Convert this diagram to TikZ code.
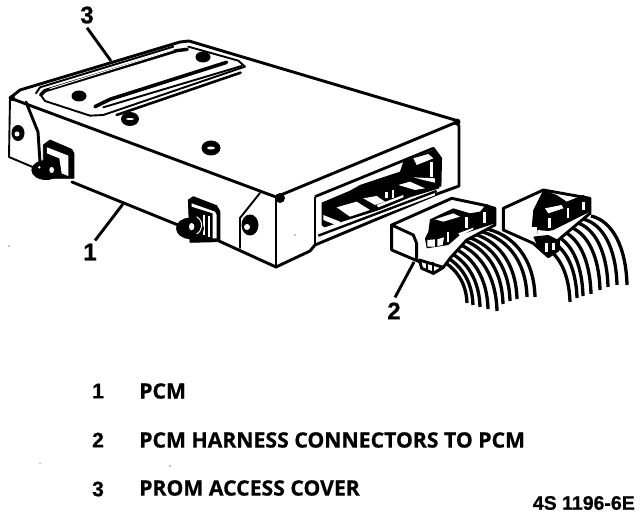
\documentclass[tikz,border=0pt]{standalone}
\usepackage{fontspec}
\setmainfont{Open Sans}[BoldFeatures={FakeBold=0.7}]
\newfontfamily\numfont{Liberation Sans}[BoldFeatures={FakeBold=0.8}]
\tikzset{
  heavy/.style={line width=2.9pt,line cap=round,line join=round},
  med/.style={line width=1.9pt,line cap=round,line join=round},
  leader/.style={line width=2.9pt,line cap=butt},
  wire/.style={line width=3.3pt,line cap=butt},
  callout/.style={font=\numfont\bfseries\fontsize{24}{24}\selectfont,inner sep=0pt},
  listnum/.style={font=\numfont\bfseries\fontsize{21}{21}\selectfont,inner sep=0pt},
  listtxt/.style={font=\bfseries\fontsize{21.2}{22}\selectfont,inner sep=0pt,anchor=west},
  code/.style={font=\numfont\bfseries\fontsize{19.5}{20}\selectfont,inner sep=0pt,anchor=east},
  inkfill/.style={fill=black,draw=black,line width=.8pt,line join=round}
}
\begin{document}
\begin{tikzpicture}[x=1pt,y=-1pt]
\useasboundingbox (0,0) rectangle (640,516);
\fill[white] (0,0) rectangle (640,516);
% ---------- PCM body
\draw[heavy] (10,98) -- (20,90) -- (180,42) -- (189,41) -- (320,80) -- (455,120) -- (459,126) -- (459,186) -- (437,194);
\draw[heavy] (10,98) -- (276,197) -- (457,122);
\draw[med] (10,98) -- (9,157) -- (35,168);
\draw[heavy] (72,182) -- (178,225);
\draw[heavy] (219,241) -- (276,267) -- (310,251) -- (315,245) -- (437,194);
\draw[heavy] (276,197) -- (276,267);
% end chamfers
\draw[heavy] (26,102) -- (38,132) -- (40,162);
\draw[med] (260,193) -- (240,218) -- (240,248);
\fill (280,198) circle (5);
\fill (12,98) circle (3);
\fill (457,122) circle (3.5);
% end screws
\fill (18,133) ellipse (6.5 and 8);
\fill[white] (17,134) circle (2.5);
\fill (250,225) ellipse (8.5 and 10.5);
\fill[white] (247,227) circle (3);
% top cover
\begin{scope}[x=.3333pt,y=-.3333pt]
\draw[med] (108,280) -- (120,262) -- (520,140);
\draw[line width=3.4pt,line cap=round,line join=round] (122,285) -- (135,272) -- (530,152) -- (562,148);
\draw[line width=.9pt,white] (150,266) -- (520,150);
\draw[med] (122,285) -- (135,303) -- (270,347) -- (310,345) -- (735,200) -- (715,182) -- (565,140);
\draw[line width=3.6pt,line cap=round] (285,320) -- (330,298) -- (680,187);
\draw[med] (310,322) -- (725,198);
\draw[line width=2.6pt,line cap=round] (350,345) -- (722,218);
\end{scope}
\fill (79,96) ellipse (7.5 and 5.5);
\fill (203,57) ellipse (7.5 and 5.5);
\fill (130,119) ellipse (9 and 7);
\fill[white] (130,119) ellipse (4 and 1);
\fill (211,148) ellipse (9.5 and 7.5);
\fill[white] (211,148) ellipse (4 and 1.5);
% left bracket and bolt
\begin{scope}[shift={(0,90)},x=.3333pt,y=-.3333pt]
\draw[inkfill] (130,165) -- (150,150) -- (215,178) -- (222,190) -- (222,265) -- (130,265) -- cycle;
\fill[white] (141,172) -- (205,197) -- (205,258) -- (185,250) -- (178,205) -- (141,190) -- cycle;
\fill (138,240) ellipse (44 and 30);
\fill[white] (155,240) ellipse (7 and 9);
\fill[white] (118,232) circle (4);
\end{scope}
% right bracket and bolt
\begin{scope}[shift={(170,185)},x=.3333pt,y=-.3333pt]
\draw[inkfill] (55,45) -- (70,35) -- (140,62) -- (150,80) -- (150,170) -- (60,172) -- cycle;
\fill[white] (65,55) -- (135,80) -- (140,90) -- (140,160) -- (128,160) -- (128,85) -- (65,65) -- cycle;
\fill[white] (100,90) rectangle (106,150);
\fill[white] (114,92) rectangle (120,155);
\fill (60,130) ellipse (42 and 32);
\fill[white] (65,125) ellipse (8 and 11);
\draw[white,line width=1pt] (80,95) arc (-60:60:30);
\end{scope}
% ---------- PCM socket
\begin{scope}[shift={(260,90)},x=.3333pt,y=-.3333pt]
\draw[line width=2.8pt,line join=round] (165,320) -- (520,175) -- (542,205) -- (540,290);
\draw[line width=2.8pt] (165,320) -- (165,465);
\fill (185,338) -- (270,302) -- (300,285) -- (420,245) -- (430,215) -- (520,180) -- (542,205) -- (538,295) -- (450,322) -- (262,400) -- (210,428) -- (185,405) -- cycle;
\fill[white] (230,352) -- (290,335) -- (330,360) -- (270,380) -- cycle;
\fill[white] (190,375) -- (240,395) -- (240,410) -- (190,390) -- cycle;
\fill[white] (310,272) -- (418,228) -- (418,236) -- (330,272) -- cycle;
\fill[white] (460,205) -- (505,192) -- (520,205) -- (470,225) -- cycle;
\fill[white] (415,285) -- (450,275) -- (495,295) -- (465,300) -- cycle;
\fill[white] (460,262) -- (525,265) -- (525,278) -- (490,270) -- cycle;
\fill[white] (310,325) -- (350,318) -- (375,335) -- (345,345) -- cycle;
\fill[white] (375,305) rectangle (385,325);
\fill[white] (395,300) rectangle (403,325);
\fill[white] (350,345) -- (430,315) -- (430,322) -- (355,352) -- cycle;
\fill[white] (510,215) rectangle (518,260);
\fill[white] (175,418) -- (525,308) -- (525,316) -- (180,445) -- cycle;
\draw[line width=2.4pt] (175,437) -- (530,303);
\fill[white] (172,340) rectangle (183,425);
\end{scope}
% ---------- Wires of harness connector 1
\foreach \sx/\sy/\ex/\ey in {418/252/467/303,425/249/473/305,432/246/480/307,439/243/488/309,446/240/497/311,453/237/503/304,460/235/510/301,467/232/517/299,475/230/527/297,483/228/535/297}
  \draw[wire] (\sx,\sy) .. controls (\sx+.6*\ex-.6*\sx,\sy+6) and (\ex-1,\sy+.45*\ey-.45*\sy) .. (\ex,\ey);
% ---------- Wires of harness connector 2
\foreach \sx/\sy/\ex/\ey in {535/243/570/302,543/238/577/298,551/234/583/296,559/230/591/294,567/226/600/290,575/222/608/287,583/219/617/285,591/216/627/285}
  \draw[wire] (\sx,\sy) .. controls (\sx+.6*\ex-.6*\sx,\sy+5) and (\ex-1,\sy+.45*\ey-.45*\sy) .. (\ex,\ey);
% ---------- Harness connector 1
\begin{scope}[shift={(380,180)},x=.3333pt,y=-.3333pt]
\draw[heavy,fill=white] (35,135) -- (35,210) -- (118,245) -- (160,280) -- (190,262) -- (210,235) -- (260,180) -- (345,135) -- (345,85) -- (310,75) -- (215,55) -- cycle;
\draw[heavy] (35,135) -- (100,165) -- (110,190) -- (110,235);
\fill (150,118) -- (220,85) -- (270,100) -- (300,95) -- (320,72) -- (345,85) -- (345,130) -- (240,165) -- (205,195) -- (140,205) -- (135,175) -- (145,155) -- cycle;
\fill[white] (142,180) -- (165,178) -- (165,200) -- (142,200) -- cycle;
\fill[white] (172,178) -- (192,172) -- (188,195) -- (172,198) -- cycle;
\fill[white] (165,118) -- (220,100) -- (240,110) -- (190,125) -- cycle;
\fill[white] (200,155) rectangle (208,185);
\fill[white] (255,112) rectangle (265,145);
\fill[white] (310,95) rectangle (318,130);
\fill[white] (235,160) -- (280,143) -- (280,148) -- (240,168) -- cycle;
\fill[white] (118,205) -- (150,212) -- (200,228) -- (200,233) -- (145,220) -- (118,225) -- cycle;
\draw[heavy,fill=white] (118,240) -- (125,265) -- (160,280) -- (190,262) -- cycle;
\draw[line width=1.8pt] (140,245) -- (140,272) (160,245) -- (160,278);
\end{scope}
% ---------- Harness connector 2
\begin{scope}[shift={(300,130)},x=.3333pt,y=-.3333pt]
\draw[heavy,fill=white] (610,235) -- (610,300) -- (700,340) -- (745,380) -- (775,360) -- (775,330) -- (870,250) -- (870,205) -- (730,180) -- cycle;
\fill (700,240) -- (730,180) -- (770,195) -- (800,215) -- (850,195) -- (872,210) -- (870,245) -- (800,280) -- (760,300) -- (710,310) -- (695,295) -- cycle;
\fill[white] (735,235) -- (785,225) -- (790,235) -- (745,250) -- cycle;
\fill[white] (690,290) rectangle (712,308);
\fill[white] (845,215) rectangle (855,240);
\fill[white] (800,235) rectangle (806,265);
\fill[white] (745,265) rectangle (752,295);
\fill[white] (712,300) -- (760,305) -- (760,312) -- (712,318) -- cycle;
\fill (700,320) -- (745,315) -- (775,330) -- (775,360) -- (745,380) -- (715,355) -- cycle;
\fill[white] (735,340) rectangle (745,365);
\fill[white] (755,340) rectangle (765,360);
\end{scope}
% ---------- Callouts
\node[callout] (n3) at (87,15) {3};
\node[callout] (n1) at (90,252) {1};
\node[callout] (n2) at (394,311) {2};
\coordinate (t3) at (111,61);
\coordinate (t1) at (123,204);
\coordinate (t2) at (414,262);
\draw[leader] (n3.south) ++(0,4) -- (t3);
\draw[leader] (n1.north) ++(5,-3) -- (t1);
\draw[leader] (n2.north) ++(1,-5) -- (t2);
% ---------- List
\node[listnum] (k1) at (98,391) {1};
\node[listnum] (k2) at (98,440) {2};
\node[listnum] (k3) at (98,489) {3};
\node[listtxt] (l1) at (139,391) {PCM};
\node[listtxt] (l2) at (139,440) {PCM HARNESS CONNECTORS TO PCM};
\node[listtxt] (l3) at (139,488) {PROM ACCESS COVER};
\node[code] (c) at (635,503) {4S 1196-6E};
% specks
\fill (9,246) circle (.7) (295,235) circle (.7) (170,466) circle (.7) (40,463) circle (.5);
\end{tikzpicture}
\end{document}
